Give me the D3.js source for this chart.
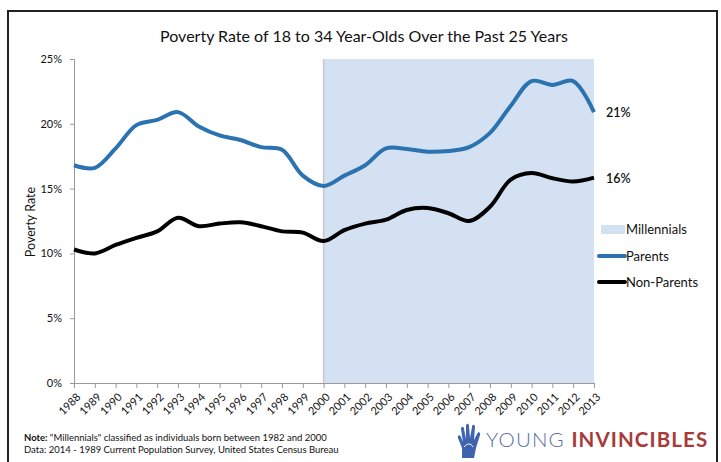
<!DOCTYPE html>
<html>
<head>
<meta charset="utf-8">
<script src="https://d3js.org/d3.v7.min.js"></script>
<style>
  body { margin: 0; background: #fff; }
  text { font-family: Lato, "Open Sans", sans-serif; fill: #111; }
</style>
</head>
<body>
<div id="chart"></div>
<script>
// data
var years = [1988, 1989, 1990, 1991, 1992, 1993, 1994, 1995, 1996, 1997, 1998, 1999, 2000,
             2001, 2002, 2003, 2004, 2005, 2006, 2007, 2008, 2009, 2010, 2011, 2012, 2013];
var parents = [16.8, 16.6, 18.1, 19.9, 20.3, 20.9, 19.8, 19.1, 18.75, 18.2, 18.0, 16.0, 15.2,
               16.0, 16.8, 18.1, 18.05, 17.85, 17.9, 18.2, 19.3, 21.4, 23.3, 23.0, 23.3, 20.9];
var nonParents = [10.3, 10.0, 10.65, 11.2, 11.7, 12.75, 12.1, 12.3, 12.4, 12.1, 11.7, 11.6, 10.95,
                  11.8, 12.3, 12.6, 13.35, 13.5, 13.1, 12.5, 13.6, 15.7, 16.2, 15.8, 15.55, 15.85];
var yTicks = [0, 5, 10, 15, 20, 25];
var millennials = [2000, 2013];
var endLabels = ["21%", "16%"];
var legendItems = ["Millennials", "Parents", "Non-Parents"];

var W = 721, H = 462;
var blue = "#2b72b0", black = "#000", shade = "#d3e1f2";

var svg = d3.select("#chart").append("svg")
    .attr("width", W)
    .attr("height", H);

// outer frame
svg.append("rect")
    .attr("x", 8).attr("y", 11)
    .attr("width", 709).attr("height", 470)
    .attr("fill", "none")
    .attr("stroke", "#222")
    .attr("stroke-width", 2);

var plotLeft = 74, plotRight = 594, plotTop = 59, plotBottom = 383;

var x = d3.scaleLinear().domain([1988, 2013]).range([plotLeft, plotRight]);
var y = d3.scaleLinear().domain([0, 25]).range([plotBottom, plotTop]);

// title
svg.append("text")
    .attr("x", 364).attr("y", 42)
    .attr("text-anchor", "middle")
    .style("font-size", "16px")
    .text("Poverty Rate of 18 to 34 Year-Olds Over the Past 25 Years");

// millennials band
svg.append("rect")
    .attr("x", x(millennials[0]))
    .attr("y", y(25))
    .attr("width", x(millennials[1]) - x(millennials[0]))
    .attr("height", y(0) - y(25))
    .attr("fill", shade);
svg.append("line")
    .attr("x1", x(millennials[0])).attr("x2", x(millennials[0]))
    .attr("y1", y(25)).attr("y2", y(0))
    .attr("stroke", "#c8c8c8").attr("stroke-width", 1.5);

// y axis
var yAxis = svg.append("g")
    .attr("transform", "translate(" + plotLeft + ",0)")
    .call(d3.axisLeft(y).tickValues(yTicks).tickSize(4).tickPadding(8)
      .tickFormat(function(d) { return d + "%"; }));
yAxis.selectAll("path, line").attr("stroke", "#999");
yAxis.selectAll("text").style("font-size", "11px").style("font-family", "Lato, sans-serif").attr("fill", "#111");

// x axis
var xAxis = svg.append("g")
    .attr("transform", "translate(0," + plotBottom + ")")
    .call(d3.axisBottom(x).tickValues(years).tickSize(5).tickFormat(d3.format("d")));
xAxis.select(".domain").attr("stroke", "#999");
xAxis.selectAll("line").attr("stroke", "#999");
xAxis.selectAll("text")
    .style("font-size", "11px")
    .style("font-family", "Lato, sans-serif")
    .attr("fill", "#111")
    .attr("text-anchor", "end")
    .attr("x", 0).attr("y", 0).attr("dy", "0.35em")
    .attr("transform", "translate(4,12) rotate(-45)");

// y label
svg.append("text")
    .attr("transform", "translate(35,222) rotate(-90)")
    .attr("text-anchor", "middle")
    .style("font-size", "12.5px")
    .text("Poverty Rate");

// lines
var line = d3.line()
    .x(function(d, i) { return x(years[i]); })
    .y(function(d) { return y(d); })
    .curve(d3.curveCatmullRom.alpha(0.5));

svg.append("path")
    .datum(parents)
    .attr("d", line)
    .attr("fill", "none")
    .attr("stroke", blue)
    .attr("stroke-width", 4);

svg.append("path")
    .datum(nonParents)
    .attr("d", line)
    .attr("fill", "none")
    .attr("stroke", black)
    .attr("stroke-width", 4);

// end labels
svg.append("text")
    .attr("x", 606).attr("y", y(parents[parents.length - 1]) + 5)
    .style("font-size", "12.5px").style("font-weight", "600")
    .text(endLabels[0]);
svg.append("text")
    .attr("x", 606).attr("y", y(nonParents[nonParents.length - 1]) + 5)
    .style("font-size", "12.5px").style("font-weight", "600")
    .text(endLabels[1]);

// legend
svg.append("rect")
    .attr("x", 601).attr("y", 225).attr("width", 24).attr("height", 9)
    .attr("fill", shade);
svg.append("line")
    .attr("x1", 599).attr("x2", 625).attr("y1", 256).attr("y2", 256)
    .attr("stroke", blue).attr("stroke-width", 4).attr("stroke-linecap", "round");
svg.append("line")
    .attr("x1", 599).attr("x2", 625).attr("y1", 282).attr("y2", 282)
    .attr("stroke", black).attr("stroke-width", 4).attr("stroke-linecap", "round");
svg.selectAll(".legtext")
    .data(legendItems)
    .enter().append("text")
    .attr("class", "legtext")
    .attr("x", 626)
    .attr("y", function(d, i) { return [234, 261, 287][i]; })
    .style("font-size", "13px")
    .text(function(d) { return d; });

// notes
var note = svg.append("text").attr("x", 24).attr("y", 441).style("font-size", "9.5px");
note.append("tspan").style("font-weight", "bold").text("Note: ");
note.append("tspan").text("\"Millennials\" classified as individuals born between 1982 and 2000");
var src = svg.append("text").attr("x", 24).attr("y", 453).style("font-size", "9.5px");
src.append("tspan").text("Data: 2014 - 1989 Current Population Survey, United States Census Bureau");

// logo
var logo = svg.append("g").attr("transform", "translate(456,424)");
logo.append("path")
    .attr("d", "M6,34 L6,24 L2,14 C1,11 4,10 5,13 L7,18 L5,5 C5,2 8,2 8,5 L10,15 L10,2 C10,-1 13,-1 13,2 L14,14 L16,3 C16,0 19,0 19,3 L18,16 L21,10 C22,7 25,8 24,11 L20,24 L18,34 Z")
    .attr("fill", "#3f63ad");
logo.append("path")
    .attr("d", "M8,23 C11,19 15,19 17,23")
    .attr("fill", "none").attr("stroke", "#fff").attr("stroke-width", 1);
var lt = svg.append("text").attr("x", 486).attr("y", 447)
    .style("font-size", "20.5px").style("letter-spacing", "1.1px");
lt.append("tspan").style("fill", "#5a6ea6").style("font-weight", "300").text("YOUNG ");
lt.append("tspan").style("fill", "#a83a3a").style("font-weight", "bold").text("INVINCIBLES");
</script>
</body>
</html>
